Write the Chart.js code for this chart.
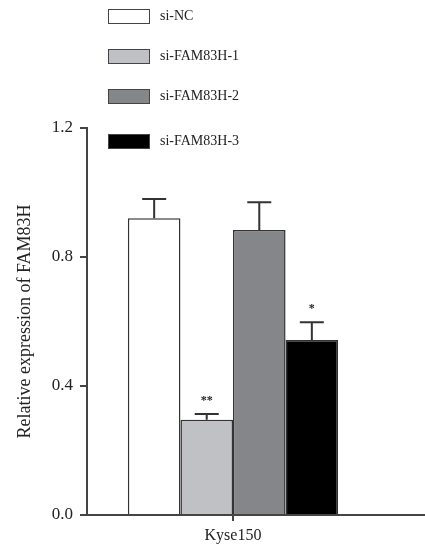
<!DOCTYPE html>
<html>
<head>
<meta charset="utf-8">
<script src="https://cdn.jsdelivr.net/npm/chart.js@4.4.1/dist/chart.umd.min.js"></script>
<style>
  body { margin: 0; background: #fff; }
  #wrap { position: relative; width: 425px; height: 547px; overflow: hidden; }
  #legend { position: absolute; left: 108px; top: 0; font-family: "Liberation Serif", serif; font-size: 14px; color: #222; }
  .item { position: absolute; left: 0; white-space: nowrap; }
  .box { position: absolute; left: 0; top: 0; width: 40px; height: 13px; border: 1.5px solid #444; }
  .lab { position: absolute; left: 52px; top: -1px; }
</style>
</head>
<body>
<div id="wrap">
  <canvas id="chart" width="425" height="547"></canvas>
  <div id="legend"></div>
</div>
<script>
// data
var categories = ['Kyse150'];
var groups = ['si-NC', 'si-FAM83H-1', 'si-FAM83H-2', 'si-FAM83H-3'];
var means = [0.92, 0.295, 0.884, 0.543];
var errors = [0.06, 0.018, 0.086, 0.055];
var marks = ['', '**', '', '*'];
var yTicks = [0.0, 0.4, 0.8, 1.2];

var fills = ['#ffffff', '#c0c1c4', '#858689', '#000000'];
var legendTops = [9, 49, 89, 134];

// html legend, stacked like the original
var legend = document.getElementById('legend');
groups.forEach(function (g, i) {
    var item = document.createElement('div');
    item.className = 'item';
    item.style.top = legendTops[i] + 'px';
    item.innerHTML = '<div class="box" style="background:' + fills[i] + '"></div><span class="lab">' + g + '</span>';
    legend.appendChild(item);
});

var datasets = groups.map(function (g, i) {
    return {
        label: g,
        data: [means[i]],
        backgroundColor: fills[i],
        borderColor: '#333',
        borderWidth: 1.5,
        borderSkipped: 'bottom'
    };
});

// upward error bars + significance stars
var errorBars = {
    id: 'errorBars',
    afterDatasetsDraw: function (chart) {
        var ctx = chart.ctx;
        var y = chart.scales.y;
        ctx.save();
        ctx.strokeStyle = '#333';
        ctx.lineWidth = 2;
        chart.data.datasets.forEach(function (ds, i) {
            var bar = chart.getDatasetMeta(i).data[0];
            var top = y.getPixelForValue(means[i] + errors[i]);
            ctx.beginPath();
            ctx.moveTo(bar.x, bar.y);
            ctx.lineTo(bar.x, top);
            ctx.moveTo(bar.x - 12, top);
            ctx.lineTo(bar.x + 12, top);
            ctx.stroke();
            if (marks[i]) {
                ctx.fillStyle = '#222';
                ctx.font = 'bold 12px "Liberation Serif", serif';
                ctx.textAlign = 'center';
                ctx.textBaseline = 'middle';
                ctx.fillText(marks[i], bar.x, top - 13);
            }
        });
        // x axis line runs on past the plot, and a little left of the y axis
        var base = y.getPixelForValue(0);
        ctx.strokeStyle = '#444';
        ctx.beginPath();
        ctx.moveTo(chart.chartArea.left - 7, base);
        ctx.lineTo(chart.width, base);
        ctx.stroke();
        ctx.restore();
    }
};

new Chart(document.getElementById('chart'), {
    type: 'bar',
    data: { labels: categories, datasets: datasets },
    plugins: [errorBars],
    options: {
        responsive: false,
        animation: false,
        layout: { padding: { top: 128, right: 46, left: 0, bottom: 0 } },
        plugins: { legend: { display: false }, tooltip: { enabled: false } },
        datasets: { bar: { categoryPercentage: 0.72, barPercentage: 1 } },
        scales: {
            x: {
                grid: { display: true, offset: false, drawOnChartArea: false, tickLength: 6, color: '#444', lineWidth: 2 },
                border: { display: false },
                ticks: { color: '#222', font: { family: 'Liberation Serif', size: 16 }, padding: 5 },
                afterFit: function (s) { s.height = 32; }
            },
            y: {
                min: 0,
                max: 1.2,
                afterBuildTicks: function (s) { s.ticks = yTicks.map(function (v) { return { value: v }; }); },
                grid: { drawOnChartArea: false, tickLength: 7, color: '#444', lineWidth: 2 },
                border: { display: true, color: '#444', width: 2 },
                ticks: {
                    color: '#222',
                    font: { family: 'Liberation Serif', size: 17 },
                    padding: 7,
                    callback: function (v) { return v.toFixed(1); }
                },
                title: {
                    display: true,
                    text: 'Relative expression of FAM83H',
                    color: '#222',
                    font: { family: 'Liberation Serif', size: 18 },
                    padding: { top: 14, bottom: 0 }
                },
                afterFit: function (s) { s.width = 87; }
            }
        }
    }
});
</script>
</body>
</html>
